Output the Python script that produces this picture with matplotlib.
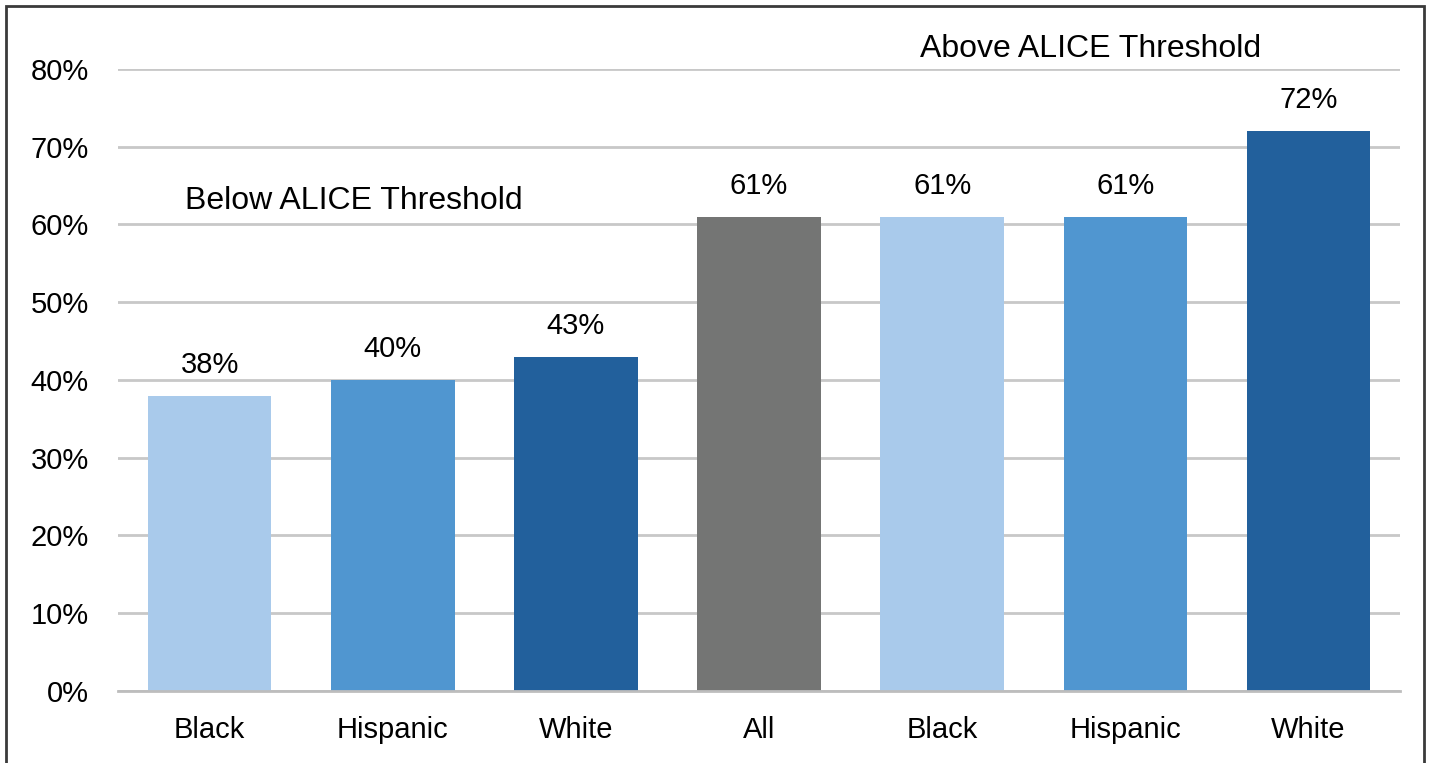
import matplotlib.pyplot as plt
from matplotlib.patches import Rectangle

plt.rcParams['font.family'] = ['Liberation Sans', 'DejaVu Sans']

# Share of households by ALICE status and race/ethnicity
labels = ['Black', 'Hispanic', 'White', 'All', 'Black', 'Hispanic', 'White']
values = [38, 40, 43, 61, 61, 61, 72]
colors = ['#A9CAEB', '#5096D0', '#22609C', '#747574', '#A9CAEB', '#5096D0', '#22609C']

fig = plt.figure(figsize=(14.32, 7.63), dpi=100)
ax = fig.add_axes([0.0824, 0.0944, 0.8953, 0.8152])

x = range(len(values))
bars = ax.bar(x, values, width=0.675, color=colors, zorder=3)

# value labels above bars
for b, v in zip(bars, values):
    ax.annotate(f'{v}%', (b.get_x() + b.get_width() / 2, v),
                xytext=(0, 31), textcoords='offset pixels',
                ha='center', va='center', fontsize=21)

ax.set_xlim(-0.5, len(values) - 0.5)
ax.set_ylim(0, 80)
ax.set_yticks(range(0, 81, 10))
ax.set_yticklabels([f'{t}%' for t in range(0, 81, 10)], fontsize=21)
ax.set_xticks(list(x))
ax.set_xticklabels(labels, fontsize=21)
ax.tick_params(axis='both', length=0)
ax.tick_params(axis='y', pad=21)
ax.tick_params(axis='x', pad=18)

ax.grid(axis='y', color='#C8C8C8', linewidth=2, zorder=0)
for s in ['top', 'right', 'left']:
    ax.spines[s].set_visible(False)
ax.spines['bottom'].set_color('#BDBDBD')
ax.spines['bottom'].set_linewidth(2)
ax.spines['bottom'].set_zorder(4)

ax.text(0.79, 63.0, 'Below ALICE Threshold', ha='center', va='center', fontsize=23)
ax.text(4.81, 82.6, 'Above ALICE Threshold', ha='center', va='center', fontsize=23,
        clip_on=False)

# frame around the chart
fig.patches.append(Rectangle((6 / 1432, -0.01), 1418 / 1432, 1 - 6 / 763 + 0.01,
                             transform=fig.transFigure, fill=False,
                             edgecolor='#3A3A3A', linewidth=2))

fig.savefig('out.png', dpi=100)
